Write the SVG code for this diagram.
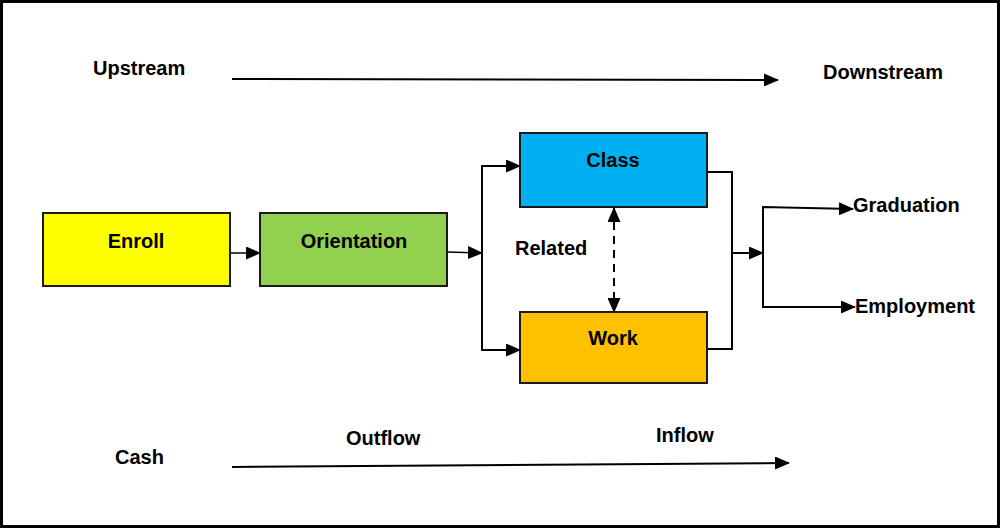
<svg xmlns="http://www.w3.org/2000/svg" width="1000" height="528" viewBox="0 0 1000 528">
<style>
text{font-family:"Liberation Sans",Arial,sans-serif;font-weight:bold;font-size:20px;fill:#000}
.box{stroke:#1a1a1a;stroke-width:2}
.c{fill:none;stroke:#000;stroke-width:2}
.mid{text-anchor:middle}
</style>
<defs>
<marker id="ah" markerUnits="userSpaceOnUse" markerWidth="15" markerHeight="13" refX="14" refY="6.5" orient="auto">
<path d="M0,0 L15,6.5 L0,13 Z" fill="#000"/>
</marker>
<marker id="as" markerUnits="userSpaceOnUse" markerWidth="15" markerHeight="13" refX="1" refY="6.5" orient="auto">
<path d="M15,0 L0,6.5 L15,13 Z" fill="#000"/>
</marker>
</defs>
<rect x="1.5" y="1.5" width="997" height="525" fill="#fff" stroke="#000" stroke-width="3"/>
<g id="labels">
<text x="93" y="75">Upstream</text>
<text x="823" y="79">Downstream</text>
<text x="115" y="464">Cash</text>
<text x="346" y="445">Outflow</text>
<text x="656" y="442">Inflow</text>
<text x="515" y="255">Related</text>
</g>
<g id="connectors">
<path class="c" d="M232,79 L778,80" marker-end="url(#ah)"/>
<path class="c" d="M232,467 L789,463" marker-end="url(#ah)"/>
<path class="c" style="stroke-width:1.5" d="M230,253 L260,253" marker-end="url(#ah)"/>
<path class="c" style="stroke-width:1.5" d="M447,252 L482,253" marker-end="url(#ah)"/>
<path class="c" d="M482,253 L482,166 L520,166" marker-end="url(#ah)"/>
<path class="c" d="M482,253 L482,350 L520,350" marker-end="url(#ah)"/>
<path class="c" d="M614,208 L614,312" stroke-dasharray="8,6" marker-start="url(#as)" marker-end="url(#ah)"/>
<path class="c" d="M707,172 L732,172 L732,349 L707,349"/>
<path class="c" d="M732,253 L763,253" marker-end="url(#ah)"/>
<path class="c" d="M763,253 L763,207 L853,209" marker-end="url(#ah)"/>
<path class="c" d="M763,253 L763,307 L855,307" marker-end="url(#ah)"/>
</g>
<g id="enroll">
<rect class="box" x="43" y="213" width="187" height="73" fill="#FFFF00"/>
<text class="mid" x="136" y="248">Enroll</text>
</g>
<g id="orientation">
<rect class="box" x="260" y="213" width="187" height="73" fill="#92D050"/>
<text class="mid" x="354" y="248">Orientation</text>
</g>
<g id="class">
<rect class="box" x="520" y="133" width="187" height="74" fill="#00B0F0"/>
<text class="mid" x="613" y="167">Class</text>
</g>
<g id="work">
<rect class="box" x="520" y="312" width="187" height="71" fill="#FFC000"/>
<text class="mid" x="613" y="345">Work</text>
</g>
<g id="outcomes">
<text x="853" y="212">Graduation</text>
<text x="855" y="313">Employment</text>
</g>
</svg>
